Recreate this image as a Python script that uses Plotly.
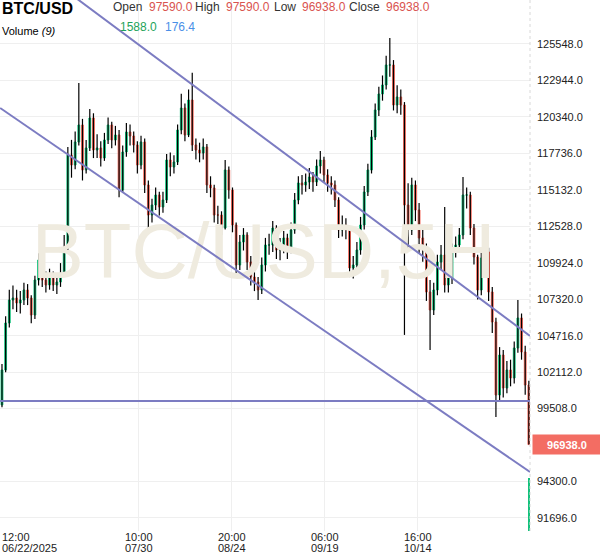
import pandas as pd
import plotly.graph_objects as go

# daily candles, 2025-06-22 .. 2025-11-14
first_open = 100900
closes = [
    99770, 102265, 105622, 107264, 107407, 107050, 107264, 107979, 107407, 106193,
    108693, 110121, 108693, 108336, 108907, 108336, 108550, 109193, 110978, 117620,
    116906, 118549, 119763, 116549, 118120, 120263, 117977, 118120, 117406, 118692,
    119763, 118692, 119049, 115121, 117835, 119263, 118977, 118335, 116906, 118549,
    115478, 113335, 114049, 114764, 113907, 114406, 117263, 116763, 117120, 119406,
    120977, 119049, 121548, 118335, 117977, 117763, 118192, 115478, 115264, 113335,
    113335, 112407, 116549, 115121, 112621, 109764, 111407, 111907, 109978, 108907,
    108550, 107979, 109764, 111193, 111193, 112407, 110835, 110978, 111693, 110835,
    112264, 114406, 115621, 115478, 115692, 116049, 115692, 116835, 117263, 116192,
    115621, 115478, 114406, 112264, 112621, 112264, 109550, 109764, 110835, 112621,
    114978, 116549, 118906, 120834, 121977, 122620, 124048, 124048, 121191, 121763,
    121191, 114049, 112264, 115478, 113692, 111693, 110835, 107836, 106550, 107979,
    109978, 110478, 108336, 108836, 110835, 111193, 111907, 114764, 114764, 112407,
    110336, 107979, 110264, 110693, 107836, 105693, 100480, 103336, 100980, 102265,
    101694, 103836, 105979, 103551, 101194, 96938,
]
highs = [
    101100, 102700, 106100, 108000, 108300, 108000, 107900, 108500, 108400, 107600,
    109000, 110600, 110400, 109300, 109500, 109300, 109200, 109900, 111900, 118200,
    118700, 119300, 122760, 120200, 118700, 120900, 120600, 119100, 118600, 119200,
    120300, 120000, 119700, 119400, 118300, 119900, 119800, 119300, 118600, 119000,
    118800, 115800, 114500, 115300, 115000, 115000, 117700, 117800, 117600, 119800,
    122000, 121300, 122300, 123500, 118800, 118500, 118800, 118400, 116100, 115500,
    114000, 113600, 117260, 116800, 115300, 112800, 111900, 112400, 112100, 110400,
    109300, 108900, 110300, 111700, 112000, 112900, 112600, 111700, 112200, 112000,
    112800, 114900, 116100, 116200, 116300, 116700, 116400, 117300, 117900, 117500,
    116600, 116100, 115800, 114600, 113300, 113100, 112500, 110400, 111400, 113200,
    115400, 117000, 119400, 121300, 122500, 123300, 124700, 125980, 124400, 122600,
    122300, 121400, 115600, 116000, 115800, 114200, 112300, 111300, 108700, 108500,
    110500, 111200, 113900, 109500, 111300, 111800, 112400, 116050, 115300, 115000,
    112700, 110500, 110800, 111400, 111000, 108200, 106000, 103900, 103700, 102900,
    103000, 104300, 107260, 106300, 104000, 101500,
]
lows = [
    98900, 99600, 102100, 105300, 106600, 106400, 106300, 106900, 106900, 105600,
    105900, 108300, 108200, 107800, 108000, 107900, 107700, 108200, 108900, 110700,
    116000, 116600, 118300, 115800, 116300, 117900, 117400, 117400, 116800, 117200,
    118400, 118100, 118300, 114600, 114900, 117500, 118300, 117800, 116300, 116600,
    114900, 112260, 112800, 113700, 113300, 113500, 114200, 116100, 116300, 116900,
    119100, 118600, 118900, 117900, 117300, 117100, 117300, 114900, 114600, 112800,
    112700, 111900, 112300, 114500, 112100, 109200, 109400, 110800, 109400, 108300,
    107900, 107260, 107700, 109300, 110500, 110700, 110200, 110100, 110600, 110200,
    110600, 112000, 114100, 114800, 115000, 115200, 115000, 115400, 116300, 115700,
    115000, 114800, 113900, 111700, 111800, 111600, 108900, 108800, 109300, 110500,
    112300, 114700, 116300, 118700, 120400, 121500, 122300, 123200, 120800, 120600,
    120500, 104770, 110700, 111900, 112900, 110600, 110000, 107200, 103690, 106200,
    107600, 109400, 107800, 107800, 108400, 110300, 110800, 111600, 113800, 111900,
    109800, 107300, 107600, 109700, 107200, 104900, 98900, 100100, 100300, 100600,
    101100, 101300, 103500, 103000, 100500, 96938,
]
dates = pd.date_range("2025-06-22", periods=len(closes), freq="D")
opens = [first_open] + closes[:-1]

# last bar volume and its 9-period average from the header
volume = [1588.0]
volume_ma = 176.4

y_ticks = [125548, 122944, 120340, 117736, 115132, 112528, 109924,
           107320, 104716, 102112, 99508, 94300, 91696]

x_tick_dates = ["2025-06-22 12:00", "2025-07-30 10:00", "2025-08-24 20:00",
                "2025-09-19 06:00", "2025-10-14 16:00"]
x_tick_time = ["12:00", "10:00", "20:00", "06:00", "16:00"]
x_tick_day = ["06/22/2025", "07/30", "08/24", "09/19", "10/14"]

# trend lines: (start date, start price, end date, end price)
trend_lines = [
    ("2025-06-22 12:00", 132860, "2025-11-14 07:26", 104700),
    ("2025-06-22 12:00", 120977, "2025-11-14 07:26", 94980),
    ("2025-06-22 12:00", 100050, "2025-11-14 07:26", 100050),
]

FONT = "Arial, Liberation Sans, sans-serif"
GREEN = "#14c27c"
RED = "#f4695b"

body_hi = [max(o, c) for o, c in zip(opens, closes)]
body_lo = [min(o, c) for o, c in zip(opens, closes)]

fig = go.Figure()

# watermark, drawn first so it sits behind the candles
fig.add_trace(go.Scatter(
    x=[pd.Timestamp("2025-09-02 12:00")], y=[110264],
    mode="text", text=["BTC/USD,5H"],
    textfont=dict(family=FONT, size=78, color="#efebdf"),
    hoverinfo="skip", showlegend=False,
))

fig.add_trace(go.Ohlc(
    x=dates, open=opens, high=highs, low=lows, close=closes,
    tickwidth=0,
    increasing=dict(line=dict(color="black", width=1.2)),
    decreasing=dict(line=dict(color="black", width=1.2)),
    hoverinfo="skip", showlegend=False,
))

fig.add_trace(go.Candlestick(
    x=dates, open=opens, high=body_hi, low=body_lo, close=closes,
    increasing=dict(line=dict(color=GREEN, width=1), fillcolor=GREEN),
    decreasing=dict(line=dict(color=RED, width=1), fillcolor=RED),
    whiskerwidth=0,
    hoverinfo="skip", showlegend=False,
))

fig.add_trace(go.Bar(
    x=[dates[-1]], y=volume, yaxis="y2",
    marker=dict(color=GREEN, line=dict(width=0)),
    width=0.3 * 86400000,
    hoverinfo="skip", showlegend=False,
))

for x0, y0, x1, y1 in trend_lines:
    fig.add_shape(type="line", xref="x", yref="y", x0=x0, y0=y0, x1=x1, y1=y1,
                  line=dict(color="#7c7cc2", width=2))

# dotted divider between plot and price scale
fig.add_shape(type="line", xref="paper", yref="paper", x0=1, x1=1, y0=0, y1=1,
              line=dict(color="#d8d8d8", width=1, dash="dot"))

W, PH = 530, 531


def px(x):
    return x / W


def py(y):
    return 1 - y / PH


ann = []
ann.append(dict(text="<b>BTC/USD</b>", x=px(0), y=py(9), xanchor="left", yanchor="middle",
                font=dict(size=16, color="black")))
header = [("Open", 111, "#333333"), ("97590.0", 147, "#d9534f"),
          ("High", 193, "#333333"), ("97590.0", 224, "#d9534f"),
          ("Low", 272, "#333333"), ("96938.0", 300, "#d9534f"),
          ("Close", 347, "#333333"), ("96938.0", 384, "#d9534f")]
for t, x, c in header:
    ann.append(dict(text=t, x=px(x), y=py(7), xanchor="left", yanchor="middle",
                    font=dict(size=12, color=c)))
ann.append(dict(text="Volume <i>(9)</i>", x=px(0), y=py(31), xanchor="left", yanchor="middle",
                font=dict(size=11, color="black")))
ann.append(dict(text="{:.1f}".format(volume[-1]), x=px(118), y=py(27), xanchor="left",
                yanchor="middle", font=dict(size=12, color="#1ea35a")))
ann.append(dict(text="{:.1f}".format(volume_ma), x=px(163), y=py(27), xanchor="left",
                yanchor="middle", font=dict(size=12, color="#4a8fe7")))

for i, (d, t, dd) in enumerate(zip(x_tick_dates, x_tick_time, x_tick_day)):
    anchor = "left" if i == 0 else "center"
    ann.append(dict(text=t, x=d, xref="x", y=py(537), yref="paper", xanchor=anchor,
                    yanchor="middle", font=dict(size=11, color="#222")))
    ann.append(dict(text=dd, x=d, xref="x", y=py(548), yref="paper", xanchor=anchor,
                    yanchor="middle", font=dict(size=11, color="#222")))

# last price tag
ann.append(dict(text="<b>{:.1f}</b>".format(closes[-1]), x=px(532), xref="paper",
                y=closes[-1], yref="y", xanchor="left", yanchor="middle",
                bgcolor="#f36d63", font=dict(size=11, color="white"),
                width=64, height=15, borderpad=2, align="center"))

for a in ann:
    a.setdefault("xref", "paper")
    a.setdefault("yref", "paper")
    a["showarrow"] = False

fig.update_layout(
    width=600, height=558,
    margin=dict(l=0, r=70, t=0, b=27),
    paper_bgcolor="white", plot_bgcolor="white",
    font=dict(family=FONT, size=11, color="#222"),
    annotations=ann,
    xaxis=dict(
        type="date",
        range=["2025-06-22 11:00", "2025-11-14 07:30"],
        tickvals=x_tick_dates, showticklabels=False,
        showgrid=True, gridcolor="#efefef", gridwidth=1,
        zeroline=False, showline=False, ticks="",
        rangeslider=dict(visible=False),
    ),
    yaxis=dict(
        side="right", range=[90766, 128690],
        tickvals=y_ticks, tickformat=".1f",
        showgrid=True, gridcolor="#efefef", gridwidth=1,
        zeroline=False, showline=False, ticks="",
        ticklabelstandoff=6,
        tickfont=dict(size=11, color="#222"),
    ),
    yaxis2=dict(overlaying="y", range=[0, 15900], visible=False),
    showlegend=False,
)

# the page's default 8px body margin would shift the whole chart
fig.write_html("out.html", config={"displayModeBar": False},
               post_script="document.body.style.margin='0';")
